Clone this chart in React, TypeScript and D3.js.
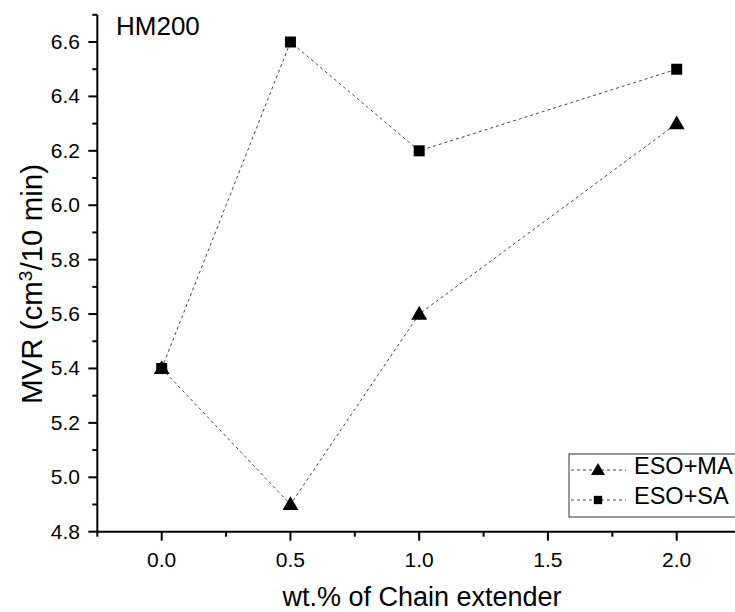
import React from "react";
import * as d3 from "d3";

const xValues = [0.0, 0.5, 1.0, 2.0];
const esoMA = [5.4, 4.9, 5.6, 6.3];
const esoSA = [5.4, 6.6, 6.2, 6.5];
const xTicks = [0.0, 0.5, 1.0, 1.5, 2.0];
const yTicks = [4.8, 5.0, 5.2, 5.4, 5.6, 5.8, 6.0, 6.2, 6.4, 6.6];
const seriesNames = ["ESO+MA", "ESO+SA"];

const W = 735;
const H = 612;
const FONT = "'Liberation Sans', Arial, sans-serif";

export default function App() {
  const x = d3.scaleLinear().domain([0, 2]).range([161.7, 676.7]);
  const y = d3.scaleLinear().domain([4.8, 6.7]).range([531.7, 14.8]);
  const x0 = x(-0.25);
  const y0 = y(4.8);
  const xMinor = d3.range(-0.25, 2.26, 0.25).filter((v) => !xTicks.some((t) => Math.abs(t - v) < 1e-6));
  const yMinor = d3.range(4.9, 6.71, 0.2);
  const line = d3
    .line<number>()
    .x((_, i) => x(xValues[i]))
    .y((d) => y(d));
  const tri = d3.symbol().type(d3.symbolTriangle).size(110)();
  const sq = d3.symbol().type(d3.symbolSquare).size(121)();
  const triL = d3.symbol().type(d3.symbolTriangle).size(85)();
  const sqL = d3.symbol().type(d3.symbolSquare).size(70)();

  return (
    <svg
      width={W}
      height={H}
      style={{ position: "absolute", left: 0, top: 0, background: "#fff" }}
      fontFamily={FONT}
    >
      <rect width={W} height={H} fill="#fff" />
      {/* series lines */}
      {[esoMA, esoSA].map((s, k) => (
        <path
          key={k}
          d={line(s) || ""}
          fill="none"
          stroke="#444"
          strokeWidth={1}
          strokeDasharray="3,3"
        />
      ))}
      {esoMA.map((v, i) => (
        <path key={"t" + i} d={tri} transform={`translate(${x(xValues[i])},${y(v) + 1})`} fill="#000" />
      ))}
      {esoSA.map((v, i) => (
        <path key={"s" + i} d={sq} transform={`translate(${x(xValues[i])},${y(v)})`} fill="#000" />
      ))}
      {/* axes */}
      <line x1={x0} x2={W + 5} y1={y0} y2={y0} stroke="#000" strokeWidth={2} />
      <line x1={x0} x2={x0} y1={y(6.7)} y2={y0 + 1} stroke="#000" strokeWidth={2} />
      {xTicks.map((t) => (
        <g key={"xt" + t}>
          <line x1={x(t)} x2={x(t)} y1={y0} y2={y0 + 9} stroke="#000" strokeWidth={2} />
          <text x={x(t)} y={y0 + 35} textAnchor="middle" fontSize={21} fill="#000">
            {t.toFixed(1)}
          </text>
        </g>
      ))}
      {xMinor.map((t) => (
        <line key={"xm" + t} x1={x(t)} x2={x(t)} y1={y0} y2={y0 + 5} stroke="#000" strokeWidth={2} />
      ))}
      {yTicks.map((t) => (
        <g key={"yt" + t}>
          <line x1={x0} x2={x0 - 9} y1={y(t)} y2={y(t)} stroke="#000" strokeWidth={2} />
          <text x={80} y={y(t) + 7} textAnchor="end" fontSize={21} fill="#000">
            {t.toFixed(1)}
          </text>
        </g>
      ))}
      {yMinor.map((t) => (
        <line key={"ym" + t} x1={x0} x2={x0 - 5} y1={y(t)} y2={y(t)} stroke="#000" strokeWidth={2} />
      ))}
      {/* titles */}
      <text x={422} y={606} textAnchor="middle" fontSize={27} fill="#000">
        wt.% of Chain extender
      </text>
      <text transform={`translate(42,284) rotate(-90)`} textAnchor="middle" fontSize={29.5} fill="#000">
        MVR (cm
        <tspan baselineShift="super" fontSize={19}>3</tspan>
        /10 min)
      </text>
      <text x={116} y={35} fontSize={26} fill="#000">
        HM200
      </text>
      {/* legend */}
      <rect x={569} y={454} width={200} height={63} fill="#fff" stroke="#333" strokeWidth={1} />
      {seriesNames.map((n, i) => {
        const cy = 470 + i * 30;
        return (
          <g key={n}>
            <line x1={571} x2={626} y1={cy} y2={cy} stroke="#444" strokeWidth={1} strokeDasharray="3,3" />
            <path
              d={i === 0 ? triL : sqL}
              transform={`translate(598,${cy + (i === 0 ? 1 : 0)})`}
              fill="#000"
            />
            <text x={634} y={474 + i * 30} fontSize={23.5} fill="#000">
              {n}
            </text>
          </g>
        );
      })}
    </svg>
  );
}
